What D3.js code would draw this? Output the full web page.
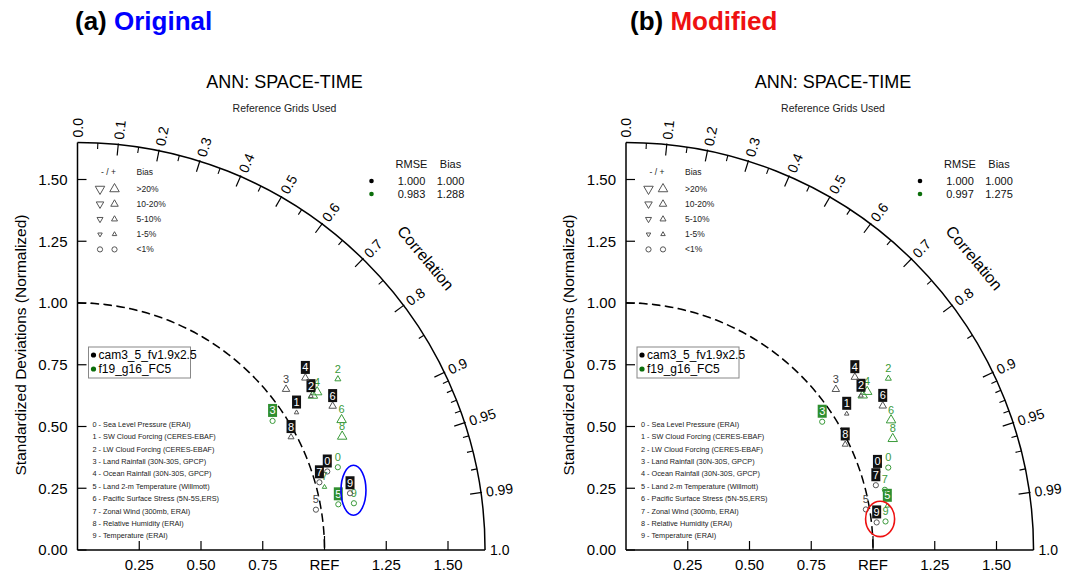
<!DOCTYPE html>
<html>
<head>
<meta charset="utf-8">
<script src="https://cdn.jsdelivr.net/npm/d3@7"></script>
<style>
body { margin: 0; background: #fff; }
svg { font-family: "Liberation Sans", Arial, Helvetica, sans-serif; }
</style>
</head>
<body>
<div id="chart"></div>
<script>
// ---- data ----
var varLabels = [
	"0 - Sea Level Pressure (ERAI)",
	"1 - SW Cloud Forcing (CERES-EBAF)",
	"2 - LW Cloud Forcing (CERES-EBAF)",
	"3 - Land Rainfall (30N-30S, GPCP)",
	"4 - Ocean Rainfall (30N-30S, GPCP)",
	"5 - Land 2-m Temperature (Willmott)",
	"6 - Pacific Surface Stress (5N-5S,ERS)",
	"7 - Zonal Wind (300mb, ERAI)",
	"8 - Relative Humidity (ERAI)",
	"9 - Temperature (ERAI)"
];
var caseNames = ["cam3_5_fv1.9x2.5", "f19_g16_FC5"];

// (a) Original : normalized std dev ratio, correlation, bias (%)
var ratioA_cam = [1.060, 1.047, 1.132, 1.066, 1.156, 0.979, 1.186, 1.017, 0.978, 1.127];
var corrA_cam  = [0.954, 0.847, 0.835, 0.792, 0.798, 0.986, 0.871, 0.963, 0.884, 0.979];
var biasA_cam  = [0.5, 3, 3, 15, 15, 0.5, 12, 0.5, 7, 0.5];
var ratioA_fc5 = [1.106, 1.140, 1.261, 0.947, 1.162, 1.072, 1.192, 1.032, 1.166, 1.135];
var corrA_fc5  = [0.953, 0.836, 0.836, 0.834, 0.835, 0.985, 0.897, 0.969, 0.919, 0.986];
var biasA_fc5  = [0.5, 25, 7, 0.5, 25, 0.5, 25, 3, 25, 0.5];

// (b) Modified
var ratioB_cam = [1.066, 1.050, 1.138, 1.070, 1.161, 0.985, 1.192, 1.045, 0.985, 1.021];
var corrB_cam  = [0.955, 0.851, 0.836, 0.794, 0.798, 0.986, 0.872, 0.968, 0.901, 0.994];
var biasB_cam  = [0.5, 3, 3, 15, 15, 0.5, 12, 0.5, 7, 0.5];
var ratioB_fc5 = [1.113, 1.145, 1.269, 0.949, 1.168, 1.073, 1.195, 1.076, 1.170, 1.057];
var corrB_fc5  = [0.954, 0.837, 0.837, 0.837, 0.836, 0.986, 0.898, 0.974, 0.923, 0.994];
var biasB_fc5  = [0.5, 25, 7, 0.5, 25, 3, 25, 0.5, 25, 0.5];

// which case gets the boxed label for each variable
var boxedCase = [0, 0, 0, 1, 0, 1, 0, 0, 0, 0];

var rmseA = ["1.000", "0.983"], biasTotA = ["1.000", "1.288"];
var rmseB = ["1.000", "0.997"], biasTotB = ["1.000", "1.275"];

var sdTicks = [0, 0.25, 0.5, 0.75, 1.0, 1.25, 1.5];
var sdLabels = ["0.00", "0.25", "0.50", "0.75", "REF", "1.25", "1.50"];
var corrMajor = [0.0, 0.1, 0.2, 0.3, 0.4, 0.5, 0.6, 0.7, 0.8, 0.9, 0.95, 0.99, 1.0];
var corrMajorLabels = ["0.0", "0.1", "0.2", "0.3", "0.4", "0.5", "0.6", "0.7", "0.8", "0.9", "0.95", "0.99", "1.0"];
var corrMinor = [0.05, 0.15, 0.25, 0.35, 0.45, 0.55, 0.65, 0.75, 0.85, 0.91, 0.92, 0.93, 0.94, 0.96, 0.97, 0.98];
var biasClassLabels = [">20%", "10-20%", "5-10%", "1-5%", "<1%"];

// ---- layout ----
var W = 1071, H = 577;
var maxSd = 1.65;
var unit = 247;
var markColors = ["#555555", "#3a9a3a"];
var dotColors = ["#000000", "#0b6e0b"];
var triSide = [9.5, 7.5, 6, 4.5];

var svg = d3.select('#chart').append('svg')
	.attr('width', W)
	.attr('height', H);

var r = d3.scaleLinear().domain([0, maxSd]).range([0, maxSd * unit]);

function biasClass(b) {
	var a = Math.abs(b);
	if (a > 20) return 0;
	if (a > 10) return 1;
	if (a > 5) return 2;
	if (a > 1) return 3;
	return 4;
}

function pt(ratio, corr) {
	return [r(ratio * corr), -r(ratio * Math.sqrt(1 - corr * corr))];
}

function drawMarker(g, x, y, cls, neg, color) {
	if (cls === 4) {
		g.append('circle').attr('cx', x).attr('cy', y).attr('r', 2.6)
			.attr('fill', 'none').attr('stroke', color).attr('stroke-width', 1);
		return;
	}
	var s = triSide[cls];
	var area = s * s * Math.sqrt(3) / 4;
	g.append('path')
		.attr('d', d3.symbol().type(d3.symbolTriangle).size(area)())
		.attr('transform', 'translate(' + x + ',' + y + ')' + (neg ? ' rotate(180)' : ''))
		.attr('fill', 'none').attr('stroke', color).attr('stroke-width', 1);
}

function drawPanel(cfg) {
	var g = svg.append('g').attr('transform', 'translate(' + cfg.ox + ',' + cfg.oy + ')');
	var R = r(maxSd);

	// panel heading
	var head = svg.append('text')
		.attr('x', cfg.headX).attr('y', 30)
		.attr('font-size', 26).attr('font-weight', 'bold');
	head.append('tspan').attr('fill', '#000').text(cfg.tag + ' ');
	head.append('tspan').attr('fill', cfg.tagColor).text(cfg.name);

	// titles
	g.append('text').attr('x', 207).attr('y', 88 - cfg.oy)
		.attr('text-anchor', 'middle').attr('font-size', 18).text('ANN: SPACE-TIME');
	g.append('text').attr('x', 207).attr('y', 112 - cfg.oy)
		.attr('text-anchor', 'middle').attr('font-size', 10.5).attr('fill', '#222').text('Reference Grids Used');

	// REF dashed arc
	g.append('path')
		.attr('d', d3.arc().innerRadius(r(1)).outerRadius(r(1)).startAngle(0).endAngle(Math.PI / 2)())
		.attr('fill', 'none').attr('stroke', '#000').attr('stroke-width', 1.5)
		.attr('stroke-dasharray', '8,5');

	// outer arc + axes
	g.append('path')
		.attr('d', d3.arc().innerRadius(R).outerRadius(R).startAngle(0).endAngle(Math.PI / 2)())
		.attr('fill', 'none').attr('stroke', '#000').attr('stroke-width', 1.5);
	g.append('line').attr('x1', 0).attr('y1', 0).attr('x2', R).attr('y2', 0)
		.attr('stroke', '#000').attr('stroke-width', 1.5);
	g.append('line').attr('x1', 0).attr('y1', 0).attr('x2', 0).attr('y2', -R)
		.attr('stroke', '#000').attr('stroke-width', 1.5);

	// sd ticks, both axes
	sdTicks.forEach(function (v, i) {
		g.append('line').attr('x1', 0).attr('x2', 9).attr('y1', -r(v)).attr('y2', -r(v))
			.attr('stroke', '#000').attr('stroke-width', 1.2);
		g.append('text').attr('x', -10).attr('y', -r(v)).attr('dy', '0.36em')
			.attr('text-anchor', 'end').attr('font-size', 15).text(sdLabels[i] === 'REF' ? '1.00' : sdLabels[i]);
		if (v > 0) {
			g.append('line').attr('x1', r(v)).attr('x2', r(v)).attr('y1', 0).attr('y2', v === 1 ? -14 : -9)
				.attr('stroke', '#000').attr('stroke-width', 1.2);
			g.append('text').attr('x', r(v)).attr('y', 20)
				.attr('text-anchor', 'middle').attr('font-size', 15).text(sdLabels[i]);
		}
	});

	// y axis title
	g.append('text')
		.attr('transform', 'translate(' + (-52) + ',' + (-r(0.83)) + ') rotate(-90)')
		.attr('text-anchor', 'middle').attr('font-size', 15.5)
		.text('Standardized Deviations (Normalized)');

	// correlation ticks
	corrMajor.forEach(function (c, i) {
		var th = Math.acos(c);
		var cx = Math.cos(th), sy = Math.sin(th);
		if (c > 0 && c < 1) {
			g.append('line')
				.attr('x1', (R - 11) * cx).attr('y1', -(R - 11) * sy)
				.attr('x2', (R + 1) * cx).attr('y2', -(R + 1) * sy)
				.attr('stroke', '#000').attr('stroke-width', 1.2);
		}
		g.append('text')
			.attr('transform', 'translate(' + ((R + 5) * cx) + ',' + (-(R + 5) * sy) + ') rotate(' + (-th * 180 / Math.PI) + ')')
			.attr('dy', '0.36em').attr('font-size', 14).text(corrMajorLabels[i]);
	});
	corrMinor.forEach(function (c) {
		var th = Math.acos(c);
		g.append('line')
			.attr('x1', (R - 6) * Math.cos(th)).attr('y1', -(R - 6) * Math.sin(th))
			.attr('x2', R * Math.cos(th)).attr('y2', -R * Math.sin(th))
			.attr('stroke', '#000').attr('stroke-width', 1.1);
	});
	var corrAng = 40 * Math.PI / 180;
	g.append('text')
		.attr('transform', 'translate(' + (r(1.84) * Math.cos(corrAng)) + ',' + (-r(1.84) * Math.sin(corrAng)) + ') rotate(50)')
		.attr('text-anchor', 'middle').attr('dy', '0.35em').attr('font-size', 16).text('Correlation');

	// bias legend
	var bl = g.append('g').attr('font-size', 8.5).attr('fill', '#222');
	bl.append('text').attr('x', 31).attr('y', -378).attr('dy', '0.35em').attr('text-anchor', 'middle').text('- / +');
	bl.append('text').attr('x', 59).attr('y', -378).attr('dy', '0.35em').text('Bias');
	biasClassLabels.forEach(function (lab, i) {
		var y = -361 + i * 15.1;
		drawMarker(bl, 22.5, y, i, true, '#555');
		drawMarker(bl, 37, y, i, false, '#555');
		bl.append('text').attr('x', 59).attr('y', y).attr('dy', '0.35em').text(lab);
	});

	// RMSE / Bias summary
	var rs = g.append('g').attr('font-size', 11).attr('fill', '#111');
	rs.append('text').attr('x', 334).attr('y', -386).attr('dy', '0.35em').attr('text-anchor', 'middle').text('RMSE');
	rs.append('text').attr('x', 373).attr('y', -386).attr('dy', '0.35em').attr('text-anchor', 'middle').text('Bias');
	[0, 1].forEach(function (k) {
		var y = -369 + k * 13;
		rs.append('circle').attr('cx', 294).attr('cy', y).attr('r', 2.3).attr('fill', dotColors[k]);
		rs.append('text').attr('x', 334).attr('y', y).attr('dy', '0.35em').attr('text-anchor', 'middle').text(cfg.rmse[k]);
		rs.append('text').attr('x', 373).attr('y', y).attr('dy', '0.35em').attr('text-anchor', 'middle').text(cfg.biasTot[k]);
	});

	// case legend box
	var lg = g.append('g').attr('transform', 'translate(11,' + (-203) + ')');
	lg.append('rect').attr('width', 102).attr('height', 31)
		.attr('fill', '#fff').attr('stroke', '#888').attr('stroke-width', 1);
	caseNames.forEach(function (n, k) {
		var y = 8 + k * 14;
		lg.append('circle').attr('cx', 5).attr('cy', y).attr('r', 2.6).attr('fill', dotColors[k]);
		lg.append('text').attr('x', 10).attr('y', y).attr('dy', '0.36em').attr('font-size', 12).text(n);
	});

	// variable list
	var vl = g.append('g').attr('font-size', 7.3).attr('fill', '#222');
	varLabels.forEach(function (t, i) {
		vl.append('text').attr('x', 15).attr('y', -125.7 + i * 12.4).attr('dy', '0.35em').text(t);
	});

	// markers: green case first, black case on top
	[1, 0].forEach(function (k) {
		var ratio = cfg.ratio[k], corr = cfg.corr[k], bias = cfg.bias[k];
		ratio.forEach(function (v, i) {
			var p = pt(v, corr[i]);
			drawMarker(g, p[0], p[1], biasClass(bias[i]), bias[i] < 0, markColors[k]);
			var ly = p[1] - 10.5;
			if (boxedCase[i] === k) {
				g.append('rect').attr('x', p[0] - 4.5).attr('y', ly - 6.5).attr('width', 9).attr('height', 13)
					.attr('fill', k === 0 ? '#111' : '#2f8f2f');
				g.append('text').attr('x', p[0]).attr('y', ly).attr('dy', '0.36em')
					.attr('text-anchor', 'middle').attr('font-size', 11).attr('fill', '#fff').text(i);
			} else {
				g.append('text').attr('x', p[0]).attr('y', ly).attr('dy', '0.36em')
					.attr('text-anchor', 'middle').attr('font-size', 11)
					.attr('fill', k === 0 ? '#444' : '#3a9a3a').text(i);
			}
		});
	});

	// highlight ellipse around variable 9
	var p0 = pt(cfg.ratio[0][9], cfg.corr[0][9]);
	var p1 = pt(cfg.ratio[1][9], cfg.corr[1][9]);
	g.append('ellipse')
		.attr('cx', (p0[0] + p1[0]) / 2 + cfg.ell[0]).attr('cy', (p0[1] + p1[1]) / 2 + cfg.ell[1])
		.attr('rx', cfg.ell[2]).attr('ry', cfg.ell[3])
		.attr('fill', 'none').attr('stroke', cfg.tagColor).attr('stroke-width', 1.6);
}

drawPanel({
	ox: 77.5, oy: 550, headX: 75, tag: '(a)', name: 'Original', tagColor: '#0000ff',
	ratio: [ratioA_cam, ratioA_fc5], corr: [corrA_cam, corrA_fc5], bias: [biasA_cam, biasA_fc5],
	rmse: rmseA, biasTot: biasTotA, ell: [1.5, -8, 12.5, 25]
});
drawPanel({
	ox: 626, oy: 550, headX: 630, tag: '(b)', name: 'Modified', tagColor: '#ee1111',
	ratio: [ratioB_cam, ratioB_fc5], corr: [corrB_cam, corrB_fc5], bias: [biasB_cam, biasB_fc5],
	rmse: rmseB, biasTot: biasTotB, ell: [-1, -3, 14.5, 17.7]
});
</script>
</body>
</html>
